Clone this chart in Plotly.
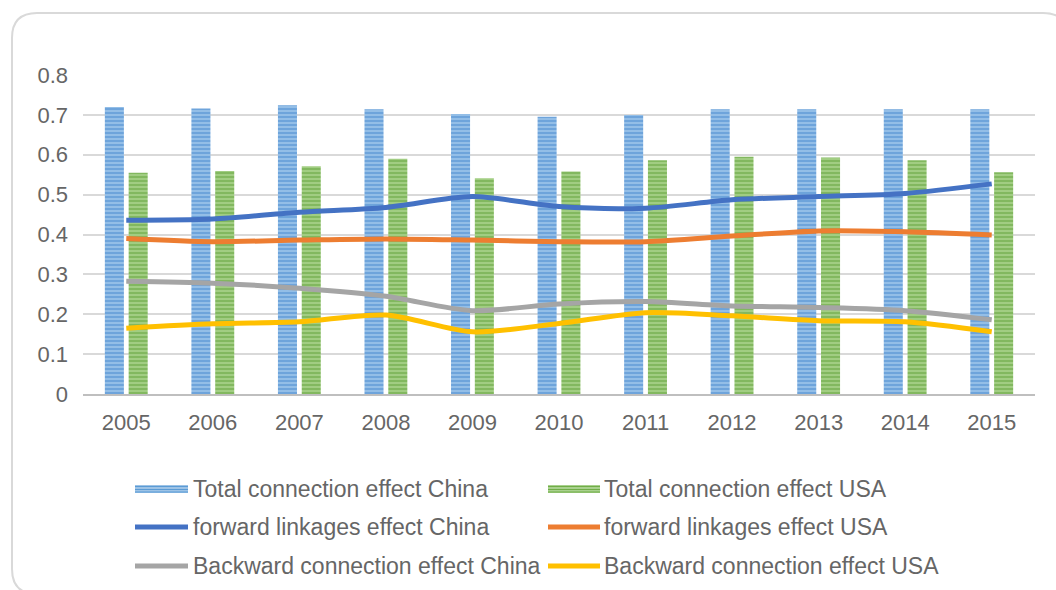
import plotly.graph_objects as go

years = ["2005", "2006", "2007", "2008", "2009", "2010", "2011", "2012", "2013", "2014", "2015"]
total_china = [0.720, 0.716, 0.724, 0.714, 0.702, 0.695, 0.700, 0.714, 0.714, 0.714, 0.714]
total_usa = [0.555, 0.559, 0.571, 0.590, 0.541, 0.558, 0.586, 0.595, 0.593, 0.586, 0.556]
forward_china = [0.436, 0.439, 0.456, 0.468, 0.495, 0.470, 0.466, 0.487, 0.495, 0.503, 0.527]
forward_usa = [0.390, 0.382, 0.386, 0.389, 0.386, 0.382, 0.382, 0.396, 0.409, 0.407, 0.399]
backward_china = [0.283, 0.278, 0.265, 0.245, 0.209, 0.226, 0.232, 0.221, 0.217, 0.209, 0.186]
backward_usa = [0.165, 0.176, 0.181, 0.198, 0.156, 0.177, 0.204, 0.196, 0.184, 0.181, 0.156]

names = ["Total connection effect China", "Total connection effect USA",
         "forward linkages effect China", "forward linkages effect USA",
         "Backward connection effect China", "Backward connection effect USA"]

W, H = 1056, 590
ML, MR, MT, MB = 83, 21, 75, 196
PW, PH = W - ML - MR, H - MT - MB
FONT = dict(family="Liberation Sans, Arial, sans-serif", size=22, color="#666666")
LFONT = dict(family="Liberation Sans, Arial, sans-serif", size=23, color="#666666")

def px(x):
    return (x - ML) / PW

def py(y):
    return (H - MB - y) / PH

fig = go.Figure()
fig.add_trace(go.Bar(
    x=years, y=total_china, name=names[0],
    marker=dict(color="#9DC3E6", line=dict(width=0),
                pattern=dict(shape="-", fgcolor="#3F84CC", bgcolor="#9CC4EA", size=4, solidity=0.6)),
))
fig.add_trace(go.Bar(
    x=years, y=total_usa, name=names[1],
    marker=dict(color="#A9D18E", line=dict(width=0),
                pattern=dict(shape="-", fgcolor="#5C9E33", bgcolor="#A8D28A", size=4, solidity=0.6)),
))
line_series = [forward_china, forward_usa, backward_china, backward_usa]
line_colors = ["#4472C4", "#ED7D31", "#A5A5A5", "#FFC000"]
for vals, col, nm in zip(line_series, line_colors, names[2:]):
    fig.add_trace(go.Scatter(
        x=years, y=vals, name=nm, mode="lines",
        line=dict(color=col, width=5, shape="spline", smoothing=0.8),
    ))

# custom legend
shapes = []
annotations = []
row_y = [489, 527, 566]
col_key = [(135, 188, 191), (548, 600, 602)]
key_colors = [("#9DC3E6", "#5B9BD5"), ("#A9D18E", "#70AD47")] + line_colors
for i, nm in enumerate(names):
    r, c = divmod(i, 2)
    x0, x1, xt = col_key[c]
    yy = row_y[r]
    if i < 2:
        light, dark = key_colors[i]
        shapes.append(dict(type="rect", xref="paper", yref="paper",
                           x0=px(x0), x1=px(x1), y0=py(yy + 4), y1=py(yy - 4),
                           fillcolor=light, line=dict(width=0)))
        for dy in (-2.5, 0.5, 3):
            shapes.append(dict(type="line", xref="paper", yref="paper",
                               x0=px(x0), x1=px(x1), y0=py(yy + dy), y1=py(yy + dy),
                               line=dict(color=dark, width=1.2)))
    else:
        shapes.append(dict(type="line", xref="paper", yref="paper",
                           x0=px(x0), x1=px(x1), y0=py(yy), y1=py(yy),
                           line=dict(color=key_colors[i], width=5)))
    annotations.append(dict(text=nm, xref="paper", yref="paper", x=px(xt), y=py(yy),
                            xanchor="left", yanchor="middle", showarrow=False, font=LFONT))

# rounded chart border
bx0, by0, bx1, by1, rr = 12, 13, 1068, 594, 25
def P(x, y):
    return f"{px(x):.5f},{py(y):.5f}"
path = (f"M {P(bx0 + rr, by0)} L {P(bx1 - rr, by0)} Q {P(bx1, by0)} {P(bx1, by0 + rr)} "
        f"L {P(bx1, by1 - rr)} Q {P(bx1, by1)} {P(bx1 - rr, by1)} "
        f"L {P(bx0 + rr, by1)} Q {P(bx0, by1)} {P(bx0, by1 - rr)} "
        f"L {P(bx0, by0 + rr)} Q {P(bx0, by0)} {P(bx0 + rr, by0)} Z")
shapes.append(dict(type="path", xref="paper", yref="paper", path=path,
                   line=dict(color="#D9D9D9", width=2), layer="below"))

fig.update_layout(
    width=W, height=H,
    margin=dict(l=ML, r=MR, t=MT, b=MB),
    paper_bgcolor="white", plot_bgcolor="white",
    barmode="group", bargap=0.45, bargroupgap=0.2,
    showlegend=False,
    font=FONT,
    shapes=shapes,
    annotations=annotations,
    xaxis=dict(type="category", showline=True, linecolor="#BFBFBF", linewidth=2,
               showgrid=False, ticks="", tickfont=FONT, ticklabelstandoff=8),
    yaxis=dict(range=[0, 0.8], dtick=0.1, showgrid=True, gridcolor="#D9D9D9", gridwidth=1.5,
               zeroline=False, showline=False, ticks="", tickfont=FONT, ticklabelstandoff=14),
)

fig.write_html("out.html")
